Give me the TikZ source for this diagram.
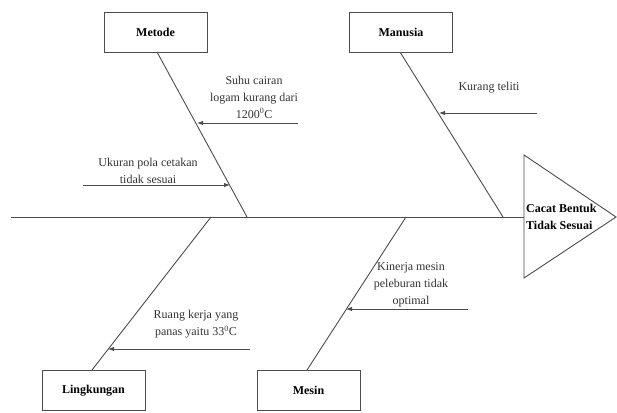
\documentclass[tikz,border=0pt]{standalone}
\usepackage{fontspec}
\setmainfont{Liberation Serif}
\usetikzlibrary{arrows.meta}
\begin{document}
\begin{tikzpicture}[x=1pt,y=-1pt,
  bone/.style={draw=black!70, line width=0.9pt},
  catbox/.style={draw=black!70, line width=0.9pt, fill=white, minimum width=103pt, minimum height=40pt, inner sep=0pt, font=\fontsize{12}{14}\selectfont\bfseries},
  causearrow/.style={draw=black!70, line width=0.9pt, -{Latex[length=6pt,width=4.5pt]}},
  causetext/.style={align=center, inner sep=0pt, font=\fontsize{12}{17}\selectfont, text=black!80}]
\useasboundingbox (0,0) rectangle (617,412);
% heads
\coordinate (tl) at (524,155);
\coordinate (tb) at (524,278);
\coordinate (tp) at (616,217);
\draw[bone] (tl) -- (tp) -- (tb) -- cycle;
\node[anchor=west, align=left, inner sep=0pt, font=\fontsize{12}{17}\selectfont\bfseries] (effect) at (526,217) {Cacat Bentuk\\Tidak Sesuai};
% spine
\coordinate (s0) at (11,217);
\coordinate (s1) at (524,217);
\draw[bone] (s0) -- (s1);
% category boxes
\node[catbox] (metode) at (155.5,32) {Metode};
\node[catbox] (manusia) at (401,32) {Manusia};
\node[catbox] (lingk) at (93.5,390.5) {Lingkungan};
\node[catbox] (mesin) at (308.5,390.5) {Mesin};
% bone ends on spine
\coordinate (bm) at (247,217);
\coordinate (bn) at (503,217);
\coordinate (bl) at (211,217);
\coordinate (bs) at (406,217);
\coordinate (mt) at (157,52);
\coordinate (nt) at (400,52);
\coordinate (lt) at (92,370);
\coordinate (st) at (307,370);
\draw[bone] (mt) -- (bm);
\draw[bone] (nt) -- (bn);
\draw[bone] (bl) -- (lt);
\draw[bone] (bs) -- (st);
% causes
\coordinate (a1s) at (298,123);
\coordinate (a1e) at (197,123);
\draw[causearrow] (a1s) -- (a1e);
\node[causetext] (t1) at (254,97) {Suhu cairan\\logam kurang dari\\1200\textsuperscript{0}C};
\coordinate (a2s) at (83,185);
\coordinate (a2e) at (230,185);
\draw[causearrow] (a2s) -- (a2e);
\node[causetext] (t2) at (148,171) {Ukuran pola cetakan\\tidak sesuai};
\coordinate (a3s) at (537,113);
\coordinate (a3e) at (439,113);
\draw[causearrow] (a3s) -- (a3e);
\node[causetext] (t3) at (489,88) {Kurang teliti};
\coordinate (a4s) at (468,309);
\coordinate (a4e) at (346,309);
\draw[causearrow] (a4s) -- (a4e);
\node[causetext] (t4) at (411,285) {Kinerja mesin\\peleburan tidak\\optimal};
\coordinate (a5s) at (250,349);
\coordinate (a5e) at (108,349);
\draw[causearrow] (a5s) -- (a5e);
\node[causetext] (t5) at (196,324) {Ruang kerja yang\\panas yaitu 33\textsuperscript{0}C};
\end{tikzpicture}
\end{document}
